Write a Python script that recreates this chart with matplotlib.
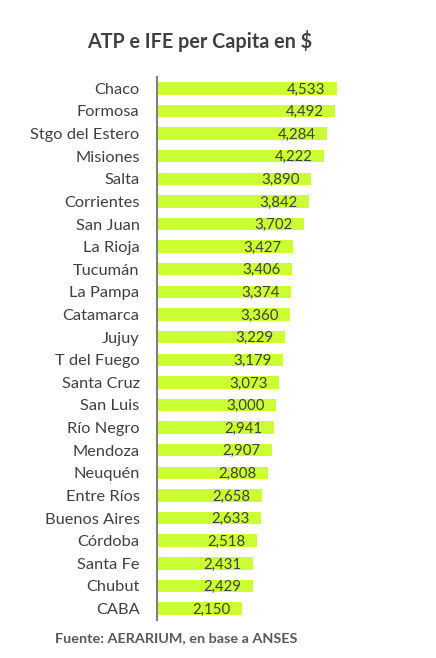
import matplotlib.pyplot as plt

provincias = ['Chaco', 'Formosa', 'Stgo del Estero', 'Misiones', 'Salta', 'Corrientes',
              'San Juan', 'La Rioja', 'Tucumán', 'La Pampa', 'Catamarca', 'Jujuy',
              'T del Fuego', 'Santa Cruz', 'San Luis', 'Río Negro', 'Mendoza', 'Neuquén',
              'Entre Ríos', 'Buenos Aires', 'Córdoba', 'Santa Fe', 'Chubut', 'CABA']
valores = [4533, 4492, 4284, 4222, 3890, 3842, 3702, 3427, 3406, 3374, 3360, 3229,
           3179, 3073, 3000, 2941, 2907, 2808, 2658, 2633, 2518, 2431, 2429, 2150]

plt.rcParams['font.family'] = ['Lato', 'DejaVu Sans']
gris = '#404040'

fig = plt.figure(figsize=(4.36, 6.58), dpi=100)
ax = fig.add_axes([0.360, 0.058, 0.546, 0.825])

y = list(range(len(provincias)))
ax.barh(y, valores, height=0.55, color='#CCFF33')
for yi, v in zip(y, valores):
    ax.text(v - 290, yi + 0.05, f'{v:,}', ha='right', va='center', fontsize=10.8, color=gris)

ax.set_ylim(len(provincias) - 0.5, -0.5)
ax.set_xlim(0, 6000)
ax.set_yticks(y)
ax.set_yticklabels(provincias, fontsize=11.8, color=gris)
ax.tick_params(axis='y', length=0, pad=12.5)
ax.set_xticks([])
for s in ['top', 'right', 'bottom']:
    ax.spines[s].set_visible(False)
ax.spines['left'].set_color('#808080')
ax.spines['left'].set_linewidth(1.5)

fig.text(0.458, 0.938, 'ATP e IFE per Capita en $', ha='center', va='center',
         fontsize=14.2, fontweight='bold', color=gris)
fig.text(0.126, 0.030, 'Fuente: AERARIUM, en base a ANSES', ha='left', va='center',
         fontsize=10.4, fontweight='bold', color='#595959')

fig.savefig('out.png', dpi=100)
